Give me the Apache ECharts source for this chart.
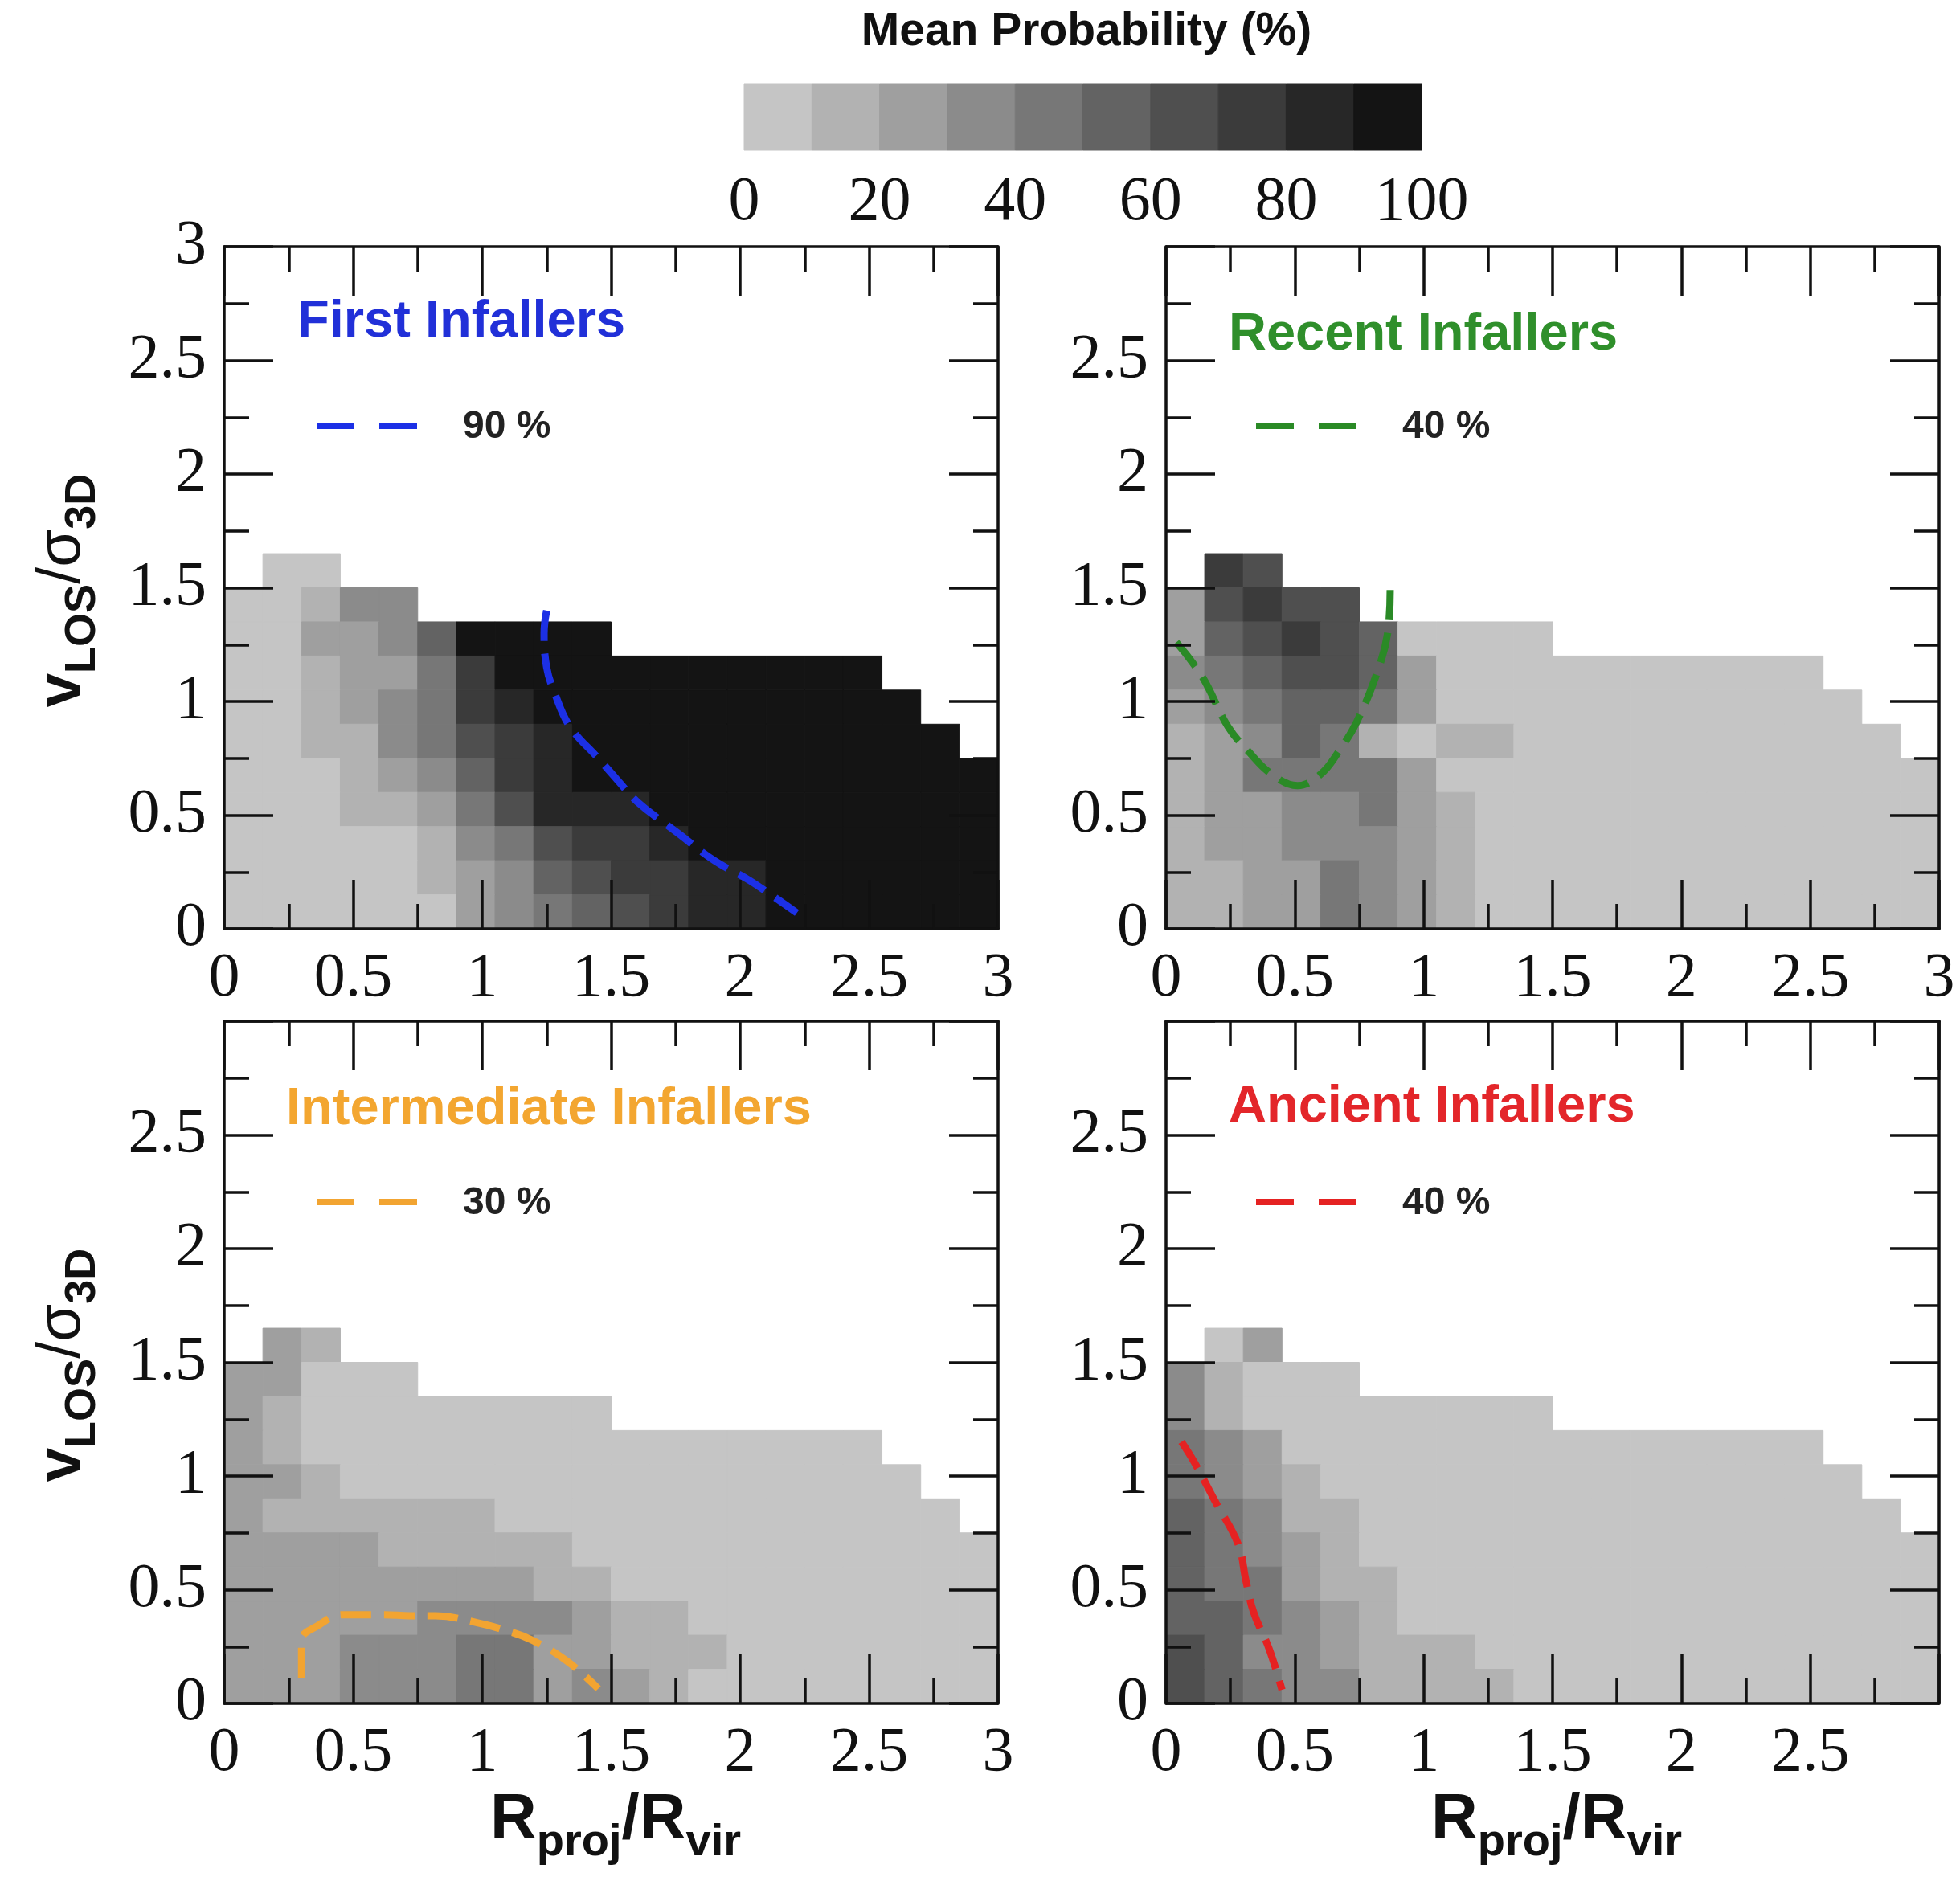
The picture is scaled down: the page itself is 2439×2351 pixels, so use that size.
<!DOCTYPE html>
<html>
<head>
<meta charset="utf-8">
<script src="https://cdn.jsdelivr.net/npm/echarts@6/dist/echarts.min.js"></script>
<style>
  html, body { margin: 0; padding: 0; background: #ffffff; }
  #chart { width: 2439px; height: 2351px; }
</style>
</head>
<body>
<div id="chart"></div>
<script>
// Phase-space maps: mean probability (%) of each infall class per (R_proj/R_vir, v_LOS/sigma_3D) cell.
const _ = null;          // empty cell (no galaxies)
const BIN = 0.15;        // cell size in both R_proj/R_vir and v_LOS/sigma_3D

// Rows run from the top bin (v 1.50-1.65) down to the bottom bin (v 0-0.15); 20 columns in R (0-3).
const probFirst = [
  [_, 5, 5, _, _, _, _, _, _, _, _, _, _, _, _, _, _, _, _, _],
  [5, 5, 15, 35, 35, _, _, _, _, _, _, _, _, _, _, _, _, _, _, _],
  [5, 5, 25, 25, 35, 55, 95, 95, 95, 95, _, _, _, _, _, _, _, _, _, _],
  [5, 5, 15, 25, 25, 45, 75, 95, 95, 95, 95, 95, 95, 95, 95, 95, 95, _, _, _],
  [5, 5, 15, 25, 35, 45, 75, 85, 95, 95, 95, 95, 95, 95, 95, 95, 95, 95, _, _],
  [5, 5, 15, 15, 35, 45, 65, 75, 85, 95, 95, 95, 95, 95, 95, 95, 95, 95, 95, _],
  [5, 5, 5, 15, 25, 35, 55, 75, 85, 95, 95, 95, 95, 95, 95, 95, 95, 95, 95, 95],
  [5, 5, 5, 15, 15, 25, 45, 65, 85, 85, 85, 95, 95, 95, 95, 95, 95, 95, 95, 95],
  [5, 5, 5, 5, 5, 15, 35, 45, 65, 75, 75, 85, 95, 95, 95, 95, 95, 95, 95, 95],
  [5, 5, 5, 5, 5, 15, 25, 35, 55, 65, 75, 75, 85, 85, 95, 95, 95, 95, 95, 95],
  [5, 5, 5, 5, 5, 5, 25, 35, 45, 55, 65, 75, 85, 85, 95, 95, 95, 95, 95, 95]
];

const probRecent = [
  [_, 75, 65, _, _, _, _, _, _, _, _, _, _, _, _, _, _, _, _, _],
  [25, 65, 75, 65, 65, _, _, _, _, _, _, _, _, _, _, _, _, _, _, _],
  [25, 55, 65, 75, 65, 55, 5, 5, 5, 5, _, _, _, _, _, _, _, _, _, _],
  [35, 45, 55, 65, 65, 55, 25, 5, 5, 5, 5, 5, 5, 5, 5, 5, 5, _, _, _],
  [25, 35, 45, 55, 55, 45, 25, 5, 5, 5, 5, 5, 5, 5, 5, 5, 5, 5, _, _],
  [15, 25, 35, 55, 45, 15, 5, 15, 15, 5, 5, 5, 5, 5, 5, 5, 5, 5, 5, _],
  [15, 25, 45, 45, 45, 45, 25, 5, 5, 5, 5, 5, 5, 5, 5, 5, 5, 5, 5, 5],
  [15, 25, 25, 35, 35, 45, 25, 15, 5, 5, 5, 5, 5, 5, 5, 5, 5, 5, 5, 5],
  [15, 25, 25, 35, 35, 35, 25, 15, 5, 5, 5, 5, 5, 5, 5, 5, 5, 5, 5, 5],
  [15, 15, 25, 25, 45, 35, 25, 15, 5, 5, 5, 5, 5, 5, 5, 5, 5, 5, 5, 5],
  [15, 15, 25, 25, 45, 35, 25, 15, 5, 5, 5, 5, 5, 5, 5, 5, 5, 5, 5, 5]
];

const probIntermediate = [
  [_, 25, 15, _, _, _, _, _, _, _, _, _, _, _, _, _, _, _, _, _],
  [25, 25, 5, 5, 5, _, _, _, _, _, _, _, _, _, _, _, _, _, _, _],
  [25, 15, 5, 5, 5, 5, 5, 5, 5, 5, _, _, _, _, _, _, _, _, _, _],
  [25, 15, 5, 5, 5, 5, 5, 5, 5, 5, 5, 5, 5, 5, 5, 5, 5, _, _, _],
  [25, 25, 15, 5, 5, 5, 5, 5, 5, 5, 5, 5, 5, 5, 5, 5, 5, 5, _, _],
  [25, 15, 15, 15, 15, 15, 15, 5, 5, 5, 5, 5, 5, 5, 5, 5, 5, 5, 5, _],
  [25, 25, 25, 25, 15, 15, 15, 15, 15, 5, 5, 5, 5, 5, 5, 5, 5, 5, 5, 5],
  [25, 25, 25, 25, 25, 25, 25, 25, 15, 15, 5, 5, 5, 5, 5, 5, 5, 5, 5, 5],
  [25, 25, 25, 25, 25, 35, 35, 35, 35, 25, 15, 15, 5, 5, 5, 5, 5, 5, 5, 5],
  [25, 25, 25, 35, 35, 35, 45, 45, 25, 25, 15, 15, 15, 5, 5, 5, 5, 5, 5, 5],
  [25, 25, 25, 35, 35, 35, 45, 45, 25, 35, 25, 15, 5, 5, 5, 5, 5, 5, 5, 5]
];

const probAncient = [
  [_, 5, 25, _, _, _, _, _, _, _, _, _, _, _, _, _, _, _, _, _],
  [35, 15, 5, 5, 5, _, _, _, _, _, _, _, _, _, _, _, _, _, _, _],
  [35, 15, 5, 5, 5, 5, 5, 5, 5, 5, _, _, _, _, _, _, _, _, _, _],
  [45, 35, 25, 5, 5, 5, 5, 5, 5, 5, 5, 5, 5, 5, 5, 5, 5, _, _, _],
  [45, 35, 25, 15, 5, 5, 5, 5, 5, 5, 5, 5, 5, 5, 5, 5, 5, 5, _, _],
  [55, 45, 35, 15, 15, 5, 5, 5, 5, 5, 5, 5, 5, 5, 5, 5, 5, 5, 5, _],
  [55, 45, 35, 25, 15, 5, 5, 5, 5, 5, 5, 5, 5, 5, 5, 5, 5, 5, 5, 5],
  [55, 45, 45, 25, 15, 15, 5, 5, 5, 5, 5, 5, 5, 5, 5, 5, 5, 5, 5, 5],
  [55, 55, 45, 35, 25, 15, 5, 5, 5, 5, 5, 5, 5, 5, 5, 5, 5, 5, 5, 5],
  [65, 55, 35, 35, 25, 15, 15, 15, 5, 5, 5, 5, 5, 5, 5, 5, 5, 5, 5, 5],
  [65, 55, 45, 35, 35, 15, 15, 15, 15, 5, 5, 5, 5, 5, 5, 5, 5, 5, 5, 5]
];

// Probability contours, [R_proj/R_vir, v_LOS/sigma_3D]
const contourFirst = [[1.25, 1.40], [1.24, 1.30], [1.25, 1.15], [1.28, 1.04], [1.34, 0.89], [1.45, 0.75],
  [1.52, 0.66], [1.60, 0.56], [1.76, 0.42], [1.90, 0.30], [2.04, 0.21], [2.22, 0.07]];
const contourRecent = [[0.04, 1.26], [0.14, 1.11], [0.24, 0.89], [0.32, 0.78], [0.41, 0.68], [0.51, 0.63],
  [0.60, 0.68], [0.67, 0.78], [0.74, 0.91], [0.82, 1.13], [0.86, 1.30], [0.87, 1.49]];
const contourIntermediate = [[0.30, 0.11], [0.30, 0.28], [0.36, 0.34], [0.46, 0.39], [0.62, 0.39], [0.72, 0.385],
  [0.82, 0.385], [0.98, 0.355], [1.08, 0.325], [1.19, 0.28], [1.33, 0.185], [1.45, 0.065]];
const contourAncient = [[0.06, 1.15], [0.11, 1.06], [0.19, 0.89], [0.28, 0.70], [0.31, 0.54], [0.34, 0.40],
  [0.40, 0.24], [0.45, 0.06]];

const panelTitles = ['First Infallers', 'Recent Infallers', 'Intermediate Infallers', 'Ancient Infallers'];
const contourLevels = ['90 %', '40 %', '30 %', '40 %'];
const panelColors = ['#2130d8', '#2f8f2b', '#f3a630', '#e3262a'];
const lineColors = ['#1c30e6', '#2a8a26', '#f2a431', '#e52222'];

// Colour bar: probability bin edges (%) and the grey shade of each bin
const colorbarEdges = [0, 10, 20, 30, 40, 50, 60, 70, 80, 90, 100];
const greyShades = ['#c5c5c5', '#b2b2b2', '#9f9f9f', '#8b8b8b', '#777777', '#636363', '#4f4f4f', '#3b3b3b', '#272727', '#141414'];

function shadeFor(p) {
  let k = 0;
  while (k < greyShades.length - 1 && p >= colorbarEdges[k + 1]) k++;
  return greyShades[k];
}

const panels = [
  { prob: probFirst, contour: contourFirst },
  { prob: probRecent, contour: contourRecent },
  { prob: probIntermediate, contour: contourIntermediate },
  { prob: probAncient, contour: contourAncient }
];

// Plot boxes in pixels
const boxes = [
  { left: 279, top: 307, width: 963, height: 849 },
  { left: 1451, top: 307, width: 962, height: 849 },
  { left: 279, top: 1271, width: 963, height: 849 },
  { left: 1451, top: 1271, width: 962, height: 849 }
];

const INK = '#111111';
const SERIF = '"Liberation Serif", "Times New Roman", serif';
const SANS = '"Liberation Sans", Arial, Helvetica, sans-serif';

function frameAxis(gridIndex, position, showLabels, showMaxLabel) {
  return {
    type: 'value', gridIndex: gridIndex, position: position,
    min: 0, max: 3, interval: 0.5, z: 10,
    axisLine: { show: true, onZero: false, lineStyle: { color: INK, width: 3.5 } },
    axisTick: { show: true, inside: true, length: 61, lineStyle: { color: INK, width: 3.5 } },
    minorTick: { show: true, splitNumber: 2, length: 31, lineStyle: { color: INK, width: 3.5 } },
    splitLine: { show: false },
    minorSplitLine: { show: false },
    axisLabel: {
      show: showLabels, showMinLabel: true, showMaxLabel: showMaxLabel,
      margin: (position === 'left') ? 22 : 24,
      fontFamily: SERIF, fontSize: 78, color: INK
    }
  };
}

const grids = [], xAxes = [], yAxes = [], series = [];

boxes.forEach((b, i) => {
  grids.push({ left: b.left, top: b.top, width: b.width, height: b.height, containLabel: false, outerBoundsMode: 'none' });
  xAxes.push(frameAxis(i, 'bottom', true, i !== 3));
  xAxes.push(frameAxis(i, 'top', false, false));
  yAxes.push(frameAxis(i, 'left', true, i === 0));
  yAxes.push(frameAxis(i, 'right', false, false));

  const rows = panels[i].prob;
  const cells = [];
  rows.forEach((row, r) => {
    const y0 = (rows.length - 1 - r) * BIN;
    row.forEach((p, c) => {
      if (p !== null) cells.push([c * BIN, y0, p]);
    });
  });

  series.push({
    type: 'custom',
    xAxisIndex: 2 * i, yAxisIndex: 2 * i,
    data: cells,
    encode: { x: 0, y: 1 },
    silent: true, z: 1,
    renderItem: function (params, api) {
      const x = api.value(0), y = api.value(1), p = api.value(2);
      const a = api.coord([x, y + BIN]);
      const c = api.coord([x + BIN, y]);
      const col = shadeFor(p);
      return {
        type: 'rect',
        shape: { x: a[0], y: a[1], width: c[0] - a[0], height: c[1] - a[1] },
        style: { fill: col, stroke: col, lineWidth: 1 }
      };
    }
  });

  series.push({
    type: 'line',
    name: contourLevels[i],
    xAxisIndex: 2 * i, yAxisIndex: 2 * i,
    data: panels[i].contour,
    smooth: 0.4, symbol: 'none', showSymbol: false, silent: true, z: 5,
    lineStyle: { color: lineColors[i], width: 9, type: [38, 16], cap: 'butt' }
  });
});

// Colour bar as its own small coordinate system (0-100 %)
grids.push({ left: 926, top: 104, width: 843, height: 83, containLabel: false, outerBoundsMode: 'none' });
xAxes.push({
  type: 'value', gridIndex: 4, position: 'bottom', min: 0, max: 100, interval: 20,
  axisLine: { show: false }, axisTick: { show: false }, splitLine: { show: false },
  axisLabel: { show: true, margin: 27, fontFamily: SERIF, fontSize: 78, color: INK, showMinLabel: true, showMaxLabel: true }
});
yAxes.push({ type: 'value', gridIndex: 4, min: 0, max: 1, show: false });

const colorbarBins = [];
for (let k = 0; k < colorbarEdges.length - 1; k++) {
  colorbarBins.push([colorbarEdges[k], colorbarEdges[k + 1], (colorbarEdges[k] + colorbarEdges[k + 1]) / 2]);
}
series.push({
  type: 'custom', xAxisIndex: 8, yAxisIndex: 8, data: colorbarBins, silent: true,
  encode: { x: [0, 1] },
  renderItem: function (params, api) {
    const a = api.coord([api.value(0), 1]);
    const c = api.coord([api.value(1), 0]);
    const col = shadeFor(api.value(2));
    return {
      type: 'rect',
      shape: { x: a[0], y: a[1], width: c[0] - a[0], height: c[1] - a[1] },
      style: { fill: col, stroke: col, lineWidth: 1 }
    };
  }
});

// Titles, contour keys and axis names
function label(x, y, text, size, color, align) {
  return {
    type: 'text', x: x, y: y, silent: true, z: 20,
    style: {
      text: text, fontFamily: SANS, fontWeight: 'bold', fontSize: size, fill: color,
      align: align, textAlign: align, verticalAlign: 'middle', textVerticalAlign: 'middle'
    }
  };
}

const titlePos = [[370, 401], [1529, 417], [356, 1381], [1529, 1378]];
const keyPos = [[394, 530], [1563, 530], [394, 1496], [1563, 1496]];

const graphics = [];
graphics.push(label(1352, 40, 'Mean Probability (%)', 57, INK, 'center'));
titlePos.forEach((p, i) => graphics.push(label(p[0], p[1], panelTitles[i], 65, panelColors[i], 'left')));
keyPos.forEach((p, i) => {
  graphics.push({
    type: 'line', silent: true, z: 20,
    shape: { x1: p[0], y1: p[1], x2: p[0] + 125, y2: p[1] },
    style: { stroke: lineColors[i], lineWidth: 8, lineDash: [47, 31] }
  });
  graphics.push(label(p[0] + 182, p[1] + 2, contourLevels[i], 48, '#222222', 'left'));
});

const richSub = {
  m: { fontFamily: SANS, fontWeight: 'bold', fontSize: 80, lineHeight: 80, verticalAlign: 'top', fill: INK, color: INK },
  s: { fontFamily: SANS, fontWeight: 'bold', fontSize: 56, lineHeight: 56, verticalAlign: 'top', padding: [40, 0, 0, 0], fill: INK, color: INK }
};
const richV = {
  m: { fontFamily: SANS, fontWeight: 'bold', fontSize: 76, lineHeight: 76, verticalAlign: 'top', fill: INK, color: INK },
  g: { fontFamily: SANS, fontSize: 76, lineHeight: 76, verticalAlign: 'top', fill: INK, color: INK },
  s: { fontFamily: SANS, fontWeight: 'bold', fontSize: 54, lineHeight: 54, verticalAlign: 'top', padding: [36, 0, 0, 0], fill: INK, color: INK }
};

[766, 1937].forEach(cx => {
  graphics.push({
    type: 'text', x: cx, y: 2226, silent: true, z: 20,
    style: {
      text: '{m|R}{s|proj}{m|/R}{s|vir}', rich: richSub,
      align: 'center', textAlign: 'center', verticalAlign: 'top', textVerticalAlign: 'top'
    }
  });
});
[735, 1699].forEach(cy => {
  graphics.push({
    type: 'text', x: 78, y: cy, rotation: Math.PI / 2, silent: true, z: 20,
    style: {
      text: '{m|v}{s|LOS}{g|/σ}{s|3D}', rich: richV,
      align: 'center', textAlign: 'center', verticalAlign: 'middle', textVerticalAlign: 'middle'
    }
  });
});

const chart = echarts.init(document.getElementById('chart'), null, { renderer: 'canvas' });
chart.setOption({
  animation: false,
  backgroundColor: '#ffffff',
  grid: grids,
  xAxis: xAxes,
  yAxis: yAxes,
  series: series,
  graphic: graphics
});
</script>
</body>
</html>
